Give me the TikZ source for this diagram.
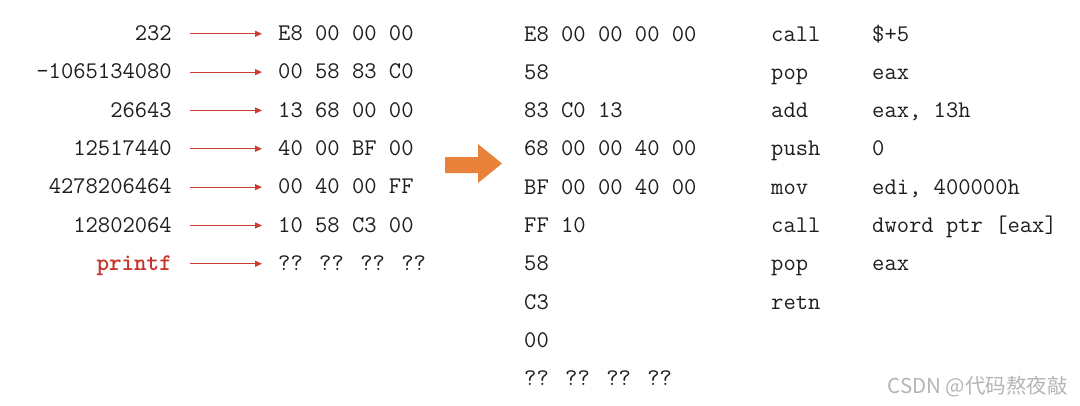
\documentclass[tikz,border=0pt]{standalone}
\usepackage{fontspec}
\newfontfamily\cjk{Noto Sans CJK SC}
\usetikzlibrary{arrows.meta}
\definecolor{arrred}{RGB}{200,60,50}
\definecolor{txtred}{RGB}{200,50,40}
\definecolor{bigorange}{RGB}{232,130,58}
\definecolor{txt}{RGB}{30,30,30}
\definecolor{wm}{RGB}{180,180,180}
\tikzset{
  code/.style={inner sep=0pt, font=\ttfamily\fontsize{23.9}{28}\selectfont, text=txt, text height=13.4pt, text depth=0pt},
  redarrow/.style={draw=arrred, line width=1.1pt, -{Triangle[length=7pt,width=6pt]}},
}
\begin{document}
\begin{tikzpicture}[x=1pt,y=-1pt]
\useasboundingbox (0,0) rectangle (1080,405);
% left column
\foreach \i/\num/\hex in {0/232/E8 00 00 00, 1/-1065134080/00 58 83 C0, 2/26643/13 68 00 00, 3/12517440/40 00 BF 00, 4/4278206464/00 40 00 FF, 5/12802064/10 58 C3 00}{
  \node[code, anchor=base east] (n\i) at (172, 40.5+38.33*\i) {\num};
  \node[code, anchor=base west] (h\i) at (278, 40.5+38.33*\i) {\hex};
  \draw[redarrow] ([xshift=18pt]n\i.east) -- ([xshift=-16pt]h\i.west);
}
\node[code, anchor=base east, text=txtred, font=\ttfamily\bfseries\fontsize{23.9}{28}\selectfont] (n6) at (172, 40.5+38.33*6) {printf};
\node[code, anchor=base west] (h6) at (278, 40.5+38.33*6) {?? ?? ?? ??};
\draw[redarrow] ([xshift=18pt]n6.east) -- ([xshift=-16pt]h6.west);
% big orange arrow
\fill[bigorange] (445,157) -- (478,157) -- (478,144) -- (502,163.5) -- (478,183) -- (478,173) -- (445,173) -- cycle;
% right block
\foreach \i/\hex in {0/E8 00 00 00 00, 1/58, 2/83 C0 13, 3/68 00 00 40 00, 4/BF 00 00 40 00, 5/FF 10, 6/58, 7/C3, 8/00, 9/?? ?? ?? ??}{
  \node[code, anchor=base west] (r\i) at (524, 41+38.3*\i) {\hex};
}
\foreach \i/\op/\arg in {0/call/\$+5, 1/pop/eax, 2/add/{eax, 13h}, 3/push/0, 4/mov/{edi, 400000h}, 5/call/{dword ptr [eax]}, 6/pop/eax}{
  \node[code, anchor=base west] (m\i) at (771, 41+38.3*\i) {\op};
  \node[code, anchor=base west] (a\i) at (872, 41+38.3*\i) {\arg};
}
\node[code, anchor=base west] (m7) at (771, 41+38.3*7) {retn};
% watermark
\node[inner sep=0pt, anchor=base east, text=wm, font=\cjk\fontsize{20.5}{24}\selectfont] (wm) at (1068, 393) {CSDN @代码熬夜敲};
\end{tikzpicture}
\end{document}
